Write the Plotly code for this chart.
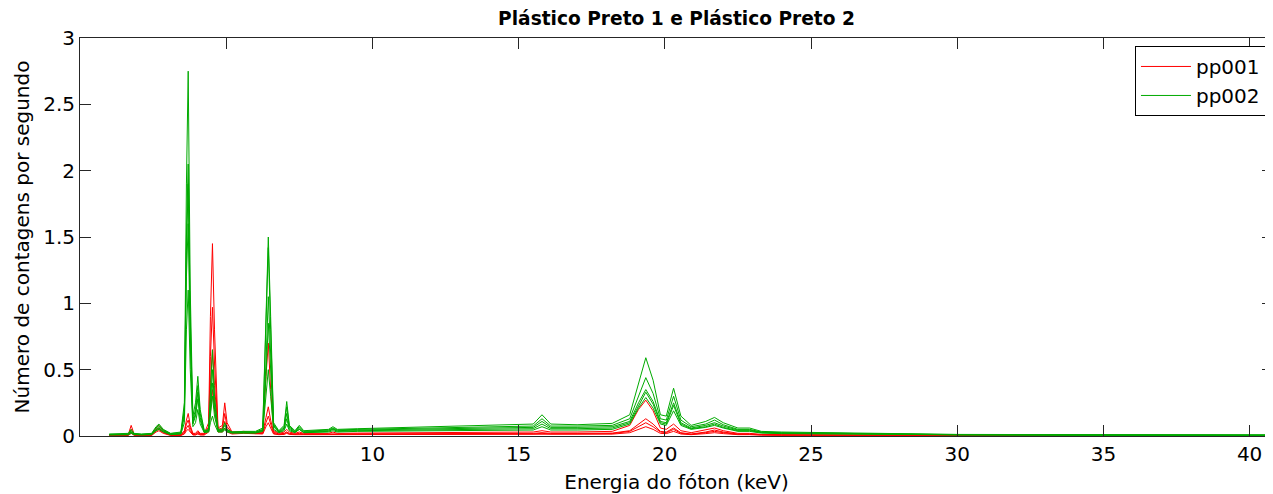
import plotly.graph_objects as go

# Photon energy grid (keV)
energy = [1.00, 1.40, 1.65, 1.75, 1.85, 2.10, 2.45, 2.60, 2.70, 2.85,
          3.10, 3.45, 3.57, 3.64, 3.70, 3.77, 3.86, 3.95, 4.03, 4.11,
          4.25, 4.40, 4.46, 4.53, 4.60, 4.72, 4.87, 4.95, 5.03, 5.20,
          5.60, 6.00, 6.25, 6.36, 6.44, 6.52, 6.62, 6.80, 6.98, 7.07,
          7.16, 7.35, 7.50, 7.65, 8.00, 8.50, 8.65, 8.80, 9.50, 11.0,
          12.5, 14.0, 15.5, 15.8, 16.1, 17.0, 18.2, 18.8, 19.1, 19.35,
          19.6, 19.85, 20.05, 20.30, 20.55, 20.9, 21.4, 21.7, 22.0, 22.5,
          22.9, 23.3, 24.0, 26.0, 28.0, 28.7, 30.0, 35.0, 40.8]

# pp001 replicates (counts per second)
pp001_a = [0.005, 0.005, 0.01, 0.08, 0.015, 0.005, 0.01, 0.06, 0.08, 0.04,
           0.01, 0.01, 0.04, 0.12, 0.17, 0.08, 0.02, 0.02, 0.04, 0.02,
           0.02, 0.1, 0.9, 1.45, 0.8, 0.06, 0.08, 0.25, 0.1, 0.03,
           0.035, 0.025, 0.03, 0.45, 0.7, 0.35, 0.04, 0.02, 0.03, 0.05,
           0.03, 0.02, 0.03, 0.02, 0.02, 0.02, 0.03, 0.02, 0.022, 0.025,
           0.025, 0.028, 0.03, 0.04, 0.03, 0.03, 0.035, 0.08, 0.2, 0.27,
           0.19, 0.06, 0.05, 0.09, 0.04, 0.025, 0.045, 0.06, 0.04, 0.02,
           0.02, 0.012, 0.01, 0.008, 0.007, 0.005, 0.003, 0.002, 0.002]
pp001_b = [0.004, 0.004, 0.008, 0.05, 0.01, 0.004, 0.008, 0.05, 0.06, 0.03,
           0.008, 0.008, 0.03, 0.09, 0.12, 0.06, 0.015, 0.015, 0.03, 0.015,
           0.015, 0.07, 0.6, 0.97, 0.55, 0.05, 0.06, 0.17, 0.07, 0.025,
           0.03, 0.02, 0.025, 0.14, 0.22, 0.12, 0.03, 0.015, 0.02, 0.03,
           0.02, 0.015, 0.02, 0.015, 0.015, 0.015, 0.02, 0.015, 0.016, 0.018,
           0.018, 0.02, 0.02, 0.025, 0.02, 0.02, 0.022, 0.04, 0.09, 0.13,
           0.09, 0.035, 0.03, 0.06, 0.025, 0.015, 0.03, 0.045, 0.03, 0.015,
           0.015, 0.01, 0.008, 0.006, 0.005, 0.004, 0.002, 0.002, 0.001]
pp001_c = [0.003, 0.003, 0.006, 0.03, 0.008, 0.003, 0.006, 0.04, 0.05, 0.025,
           0.006, 0.006, 0.02, 0.06, 0.08, 0.04, 0.01, 0.01, 0.02, 0.01,
           0.01, 0.05, 0.4, 0.65, 0.38, 0.04, 0.04, 0.11, 0.05, 0.02,
           0.025, 0.018, 0.02, 0.1, 0.15, 0.09, 0.02, 0.012, 0.015, 0.03,
           0.015, 0.012, 0.015, 0.012, 0.012, 0.012, 0.015, 0.012, 0.013, 0.014,
           0.015, 0.016, 0.016, 0.02, 0.016, 0.016, 0.018, 0.035, 0.07, 0.10,
           0.07, 0.03, 0.025, 0.05, 0.02, 0.012, 0.025, 0.035, 0.025, 0.012,
           0.012, 0.008, 0.006, 0.005, 0.004, 0.003, 0.002, 0.001, 0.001]
pp001_d = [0.002, 0.002, 0.004, 0.02, 0.005, 0.002, 0.004, 0.03, 0.04, 0.02,
           0.004, 0.004, 0.015, 0.04, 0.05, 0.03, 0.008, 0.008, 0.015, 0.008,
           0.008, 0.03, 0.2, 0.35, 0.2, 0.03, 0.03, 0.06, 0.03, 0.015,
           0.02, 0.015, 0.015, 0.07, 0.1, 0.06, 0.015, 0.01, 0.012, 0.02,
           0.012, 0.01, 0.012, 0.01, 0.01, 0.01, 0.012, 0.01, 0.01, 0.011,
           0.012, 0.012, 0.012, 0.015, 0.012, 0.012, 0.014, 0.025, 0.05, 0.07,
           0.05, 0.02, 0.018, 0.035, 0.015, 0.01, 0.018, 0.025, 0.018, 0.01,
           0.01, 0.006, 0.005, 0.004, 0.003, 0.002, 0.001, 0.001, 0.001]

# pp002 replicates (counts per second)
pp002_a = [0.015, 0.015, 0.02, 0.05, 0.02, 0.015, 0.02, 0.07, 0.09, 0.05,
           0.02, 0.03, 0.25, 1.9, 2.75, 1.1, 0.15, 0.25, 0.45, 0.2,
           0.04, 0.05, 0.3, 0.65, 0.3, 0.05, 0.05, 0.10, 0.05, 0.03,
           0.035, 0.035, 0.06, 0.8, 1.5, 0.9, 0.1, 0.04, 0.08, 0.26,
           0.08, 0.04, 0.08, 0.04, 0.045, 0.05, 0.07, 0.05, 0.055, 0.065,
           0.075, 0.085, 0.09, 0.16, 0.09, 0.085, 0.095, 0.16, 0.4, 0.59,
           0.42, 0.16, 0.15, 0.36, 0.15, 0.08, 0.11, 0.14, 0.1, 0.06,
           0.06, 0.035, 0.03, 0.025, 0.02, 0.015, 0.012, 0.01, 0.008]
pp002_b = [0.012, 0.012, 0.015, 0.04, 0.018, 0.012, 0.018, 0.06, 0.08, 0.045,
           0.018, 0.025, 0.2, 1.5, 2.05, 0.9, 0.12, 0.2, 0.38, 0.17,
           0.035, 0.045, 0.25, 0.5, 0.25, 0.045, 0.045, 0.08, 0.045, 0.03,
           0.03, 0.03, 0.05, 0.75, 1.42, 0.8, 0.09, 0.035, 0.07, 0.22,
           0.07, 0.035, 0.07, 0.035, 0.04, 0.045, 0.06, 0.045, 0.05, 0.055,
           0.065, 0.07, 0.075, 0.13, 0.075, 0.075, 0.08, 0.13, 0.3, 0.44,
           0.32, 0.13, 0.12, 0.30, 0.12, 0.07, 0.09, 0.12, 0.085, 0.05,
           0.05, 0.03, 0.025, 0.022, 0.018, 0.013, 0.01, 0.008, 0.007]
pp002_c = [0.01, 0.01, 0.012, 0.03, 0.015, 0.01, 0.015, 0.05, 0.07, 0.04,
           0.015, 0.02, 0.18, 1.4, 1.9, 0.8, 0.1, 0.17, 0.33, 0.14,
           0.03, 0.04, 0.2, 0.4, 0.2, 0.04, 0.04, 0.06, 0.04, 0.028,
           0.028, 0.028, 0.045, 0.55, 1.05, 0.6, 0.08, 0.03, 0.06, 0.17,
           0.06, 0.03, 0.06, 0.03, 0.035, 0.04, 0.055, 0.04, 0.045, 0.05,
           0.055, 0.06, 0.065, 0.11, 0.065, 0.065, 0.07, 0.11, 0.25, 0.35,
           0.26, 0.11, 0.1, 0.25, 0.1, 0.06, 0.08, 0.10, 0.075, 0.045,
           0.045, 0.028, 0.022, 0.02, 0.016, 0.012, 0.009, 0.007, 0.006]
pp002_d = [0.01, 0.01, 0.01, 0.03, 0.012, 0.01, 0.012, 0.045, 0.06, 0.035,
           0.012, 0.018, 0.15, 1.2, 1.6, 0.7, 0.09, 0.15, 0.28, 0.12,
           0.028, 0.035, 0.15, 0.3, 0.15, 0.035, 0.035, 0.055, 0.035, 0.025,
           0.025, 0.025, 0.04, 0.45, 0.85, 0.5, 0.07, 0.028, 0.05, 0.13,
           0.05, 0.028, 0.05, 0.028, 0.03, 0.035, 0.05, 0.035, 0.04, 0.045,
           0.05, 0.055, 0.055, 0.09, 0.055, 0.055, 0.06, 0.1, 0.23, 0.33,
           0.24, 0.1, 0.09, 0.23, 0.09, 0.055, 0.07, 0.09, 0.065, 0.04,
           0.04, 0.025, 0.02, 0.018, 0.015, 0.011, 0.008, 0.006, 0.005]
pp002_e = [0.008, 0.008, 0.01, 0.02, 0.01, 0.008, 0.01, 0.04, 0.05, 0.03,
           0.01, 0.015, 0.1, 0.8, 1.1, 0.5, 0.07, 0.1, 0.2, 0.09,
           0.025, 0.03, 0.1, 0.15, 0.09, 0.03, 0.03, 0.045, 0.03, 0.022,
           0.022, 0.022, 0.035, 0.3, 0.5, 0.3, 0.05, 0.025, 0.04, 0.09,
           0.04, 0.025, 0.05, 0.025, 0.028, 0.03, 0.04, 0.03, 0.035, 0.038,
           0.04, 0.045, 0.045, 0.07, 0.045, 0.045, 0.05, 0.09, 0.21, 0.29,
           0.21, 0.09, 0.08, 0.19, 0.08, 0.05, 0.065, 0.08, 0.06, 0.035,
           0.035, 0.022, 0.018, 0.016, 0.013, 0.01, 0.007, 0.005, 0.004]

x_ticks = [5, 10, 15, 20, 25, 30, 35, 40]
y_ticks = [0, 0.5, 1, 1.5, 2, 2.5, 3]
y_tick_labels = ["0", "0.5", "1", "1.5", "2", "2.5", "3"]

RED = "rgb(255,0,0)"
GREEN = "rgb(0,170,0)"
FONT = "DejaVu Sans"

fig = go.Figure()
for i, ys in enumerate([pp001_a, pp001_b, pp001_c, pp001_d]):
    fig.add_trace(go.Scatter(x=energy, y=ys, mode="lines", name="pp001",
                             legendgroup="pp001", showlegend=(i == 0),
                             line=dict(color=RED, width=1)))
for i, ys in enumerate([pp002_a, pp002_b, pp002_c, pp002_d, pp002_e]):
    fig.add_trace(go.Scatter(x=energy, y=ys, mode="lines", name="pp002",
                             legendgroup="pp002", showlegend=(i == 0),
                             line=dict(color=GREEN, width=1)))

# The page body has an 8px default margin; size the figure to fit the window.
W, H = 1265, 486
axis_color = "rgb(38,38,38)"
fig.update_layout(
    width=W, height=H,
    margin=dict(l=72, r=0, t=30, b=58, autoexpand=False),
    paper_bgcolor="white", plot_bgcolor="white",
    font=dict(family=FONT, size=20, color="black"),
    title=dict(text="<b>Plástico Preto 1 e Plástico Preto 2</b>",
               font=dict(family=FONT, size=18.6, color="black"),
               x=0.5, xref="paper", xanchor="center",
               y=1 - 10 / H, yref="container", yanchor="middle"),
    showlegend=True,
    legend=dict(x=0.8843, xanchor="left", y=0.98, yanchor="top",
                xref="paper", yref="paper",
                bgcolor="white", bordercolor="black", borderwidth=1,
                font=dict(family=FONT, size=20, color="black"),
                itemwidth=50, tracegroupgap=0),
    xaxis=dict(range=[0, 40.8], tickvals=x_ticks, ticks="inside", ticklen=11,
               tickcolor=axis_color, showline=True, linecolor=axis_color,
               linewidth=1, mirror="ticks", showgrid=False, zeroline=False,
               automargin=False,
               tickfont=dict(family=FONT, size=20),
               title=dict(text="Energia do fóton (keV)", standoff=10,
                          font=dict(family=FONT, size=20))),
    yaxis=dict(range=[0, 3], tickvals=y_ticks, ticktext=y_tick_labels,
               ticks="inside", ticklen=11, tickcolor=axis_color,
               showline=True, linecolor=axis_color, linewidth=1,
               mirror="ticks", showgrid=False, zeroline=False,
               automargin=False,
               tickfont=dict(family=FONT, size=20),
               title=dict(text="Número de contagens por segundo", standoff=8,
                          font=dict(family=FONT, size=20))),
)

fig.write_html("out.html")
